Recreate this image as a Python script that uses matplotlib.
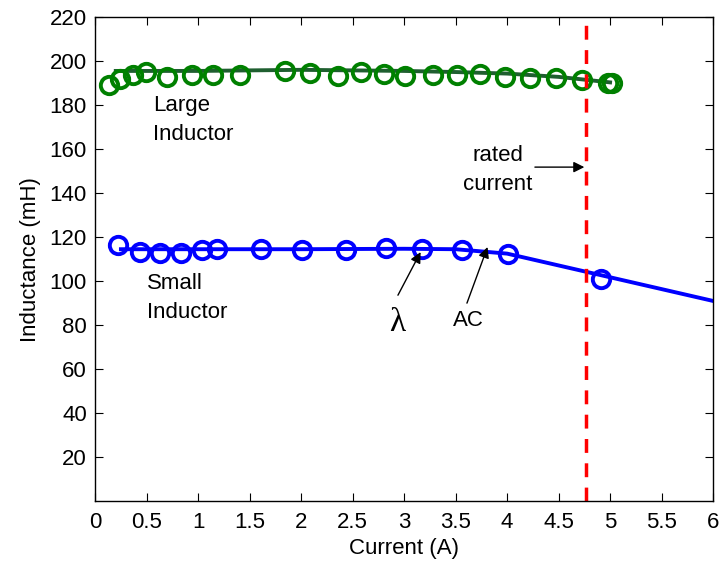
import matplotlib
matplotlib.use("Agg")
import matplotlib.pyplot as plt

plt.rcParams['font.family'] = ['Liberation Sans', 'DejaVu Sans']

# large inductor measurements
large_x = [0.13, 0.24, 0.37, 0.49, 0.70, 0.94, 1.14, 1.41, 1.84, 2.09, 2.36, 2.58, 2.80, 3.01, 3.28, 3.51, 3.74, 3.98, 4.22, 4.47, 4.73, 4.98, 5.02]
large_y = [189.0, 192.0, 193.6, 195.0, 192.7, 193.6, 193.6, 193.6, 195.5, 194.5, 193.0, 195.0, 194.0, 193.0, 193.6, 193.6, 194.0, 192.7, 192.3, 192.3, 191.4, 190.0, 190.0]
large_fit_x = [0.2, 1.0, 2.0, 3.0, 3.5, 4.0, 4.5, 5.0]
large_fit_y = [195.5, 195.5, 196.0, 195.5, 195.0, 194.3, 192.8, 190.3]

# small inductor measurements
small_x = [0.22, 0.44, 0.63, 0.83, 1.04, 1.18, 1.61, 2.01, 2.44, 2.82, 3.17, 3.56, 4.01, 4.91]
small_y = [116.4, 113.2, 112.7, 112.7, 114.0, 114.5, 114.5, 114.0, 114.0, 115.0, 114.5, 114.0, 112.3, 100.9]
small_fit_x = [0.25, 1.0, 2.0, 3.0, 3.5, 4.0, 6.0]
small_fit_y = [114.5, 114.5, 114.5, 114.7, 114.5, 112.5, 91.0]

rated_current = 4.77

fig = plt.figure(figsize=(7.21, 5.67), dpi=100)
ax = fig.add_axes([0.132, 0.116, 0.857, 0.854])

ax.plot(large_fit_x, large_fit_y, color='#1f5f30', lw=2.8)
ax.plot(large_x, large_y, 'o', color='#008000', mfc='none', ms=12.5, mew=2.8)
ax.plot(small_fit_x, small_fit_y, color='#0000ff', lw=2.8)
ax.plot(small_x, small_y, 'o', color='#0000ff', mfc='none', ms=12.5, mew=2.8)
ax.axvline(rated_current, color='#ff0000', lw=2.5, ls=(0, (4, 3)))

fs = 16
ax.text(0.56, 173, 'Large\nInductor', fontsize=fs, va='center', ha='left', linespacing=1.5)
ax.text(0.50, 92.5, 'Small\nInductor', fontsize=fs, va='center', ha='left', linespacing=1.5)
ax.text(3.91, 150.5, 'rated\ncurrent', fontsize=fs, va='center', ha='center', linespacing=1.5)

arw = dict(arrowstyle='-|>', color='black', lw=1, mutation_scale=16, shrinkA=0, shrinkB=0)
ax.annotate('', xy=(4.75, 151.8), xytext=(4.27, 151.8), arrowprops=arw)
ax.annotate('', xy=(3.16, 113.2), xytext=(2.94, 93.6), arrowprops=arw)
ax.annotate('', xy=(3.81, 115.5), xytext=(3.61, 90.0), arrowprops=arw)
ax.text(2.93, 81, 'λ', fontsize=24, ha='center', va='center', family=['Liberation Serif', 'DejaVu Serif'])
ax.text(3.62, 82.3, 'AC', fontsize=fs, ha='center', va='center')

ax.set_xlim(0, 6)
ax.set_ylim(0, 220)
ax.set_xticks([0, 0.5, 1, 1.5, 2, 2.5, 3, 3.5, 4, 4.5, 5, 5.5, 6])
ax.set_xticklabels(['0', '0.5', '1', '1.5', '2', '2.5', '3', '3.5', '4', '4.5', '5', '5.5', '6'])
ax.set_yticks(range(20, 221, 20))
ax.tick_params(direction='in', top=True, right=True, labelsize=fs, length=6, width=0.8)
ax.tick_params(axis='x', pad=8)
ax.tick_params(axis='y', pad=6)
for s in ax.spines.values():
    s.set_linewidth(1.0)
ax.set_xlabel('Current (A)', fontsize=fs, labelpad=3)
ax.set_ylabel('Inductance (mH)', fontsize=fs, labelpad=6)

fig.savefig('out.png', dpi=100)
